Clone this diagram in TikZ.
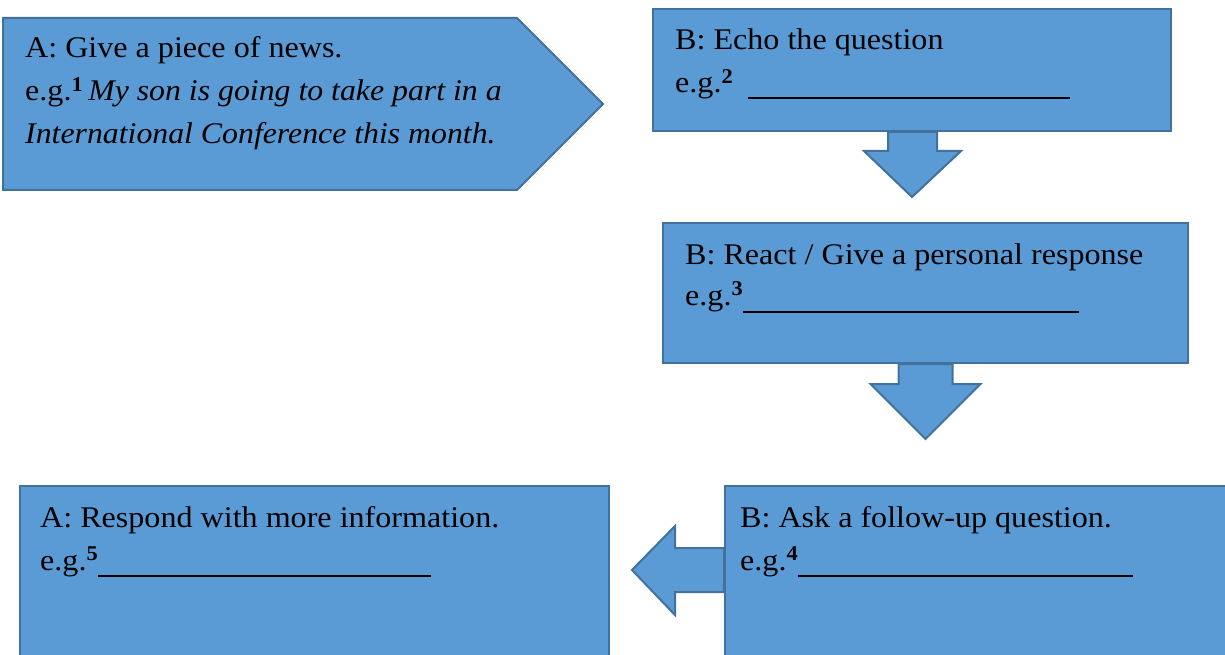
\documentclass[tikz,border=0pt]{standalone}
\usepackage{fontspec}
\setmainfont[FakeStretch=1.07, ItalicFeatures={FakeStretch=1.06}]{Liberation Serif}
\usetikzlibrary{calc}
\definecolor{boxfill}{HTML}{5B9BD5}
\definecolor{boxline}{HTML}{41719C}
\begin{document}
\begin{tikzpicture}[x=1pt,y=-1pt,
  blk/.style={fill=boxfill, draw=boxline, line width=2pt, line join=miter},
  box/.style={blk, rectangle, inner sep=0pt},
  txt/.style={anchor=base west, inner sep=0pt, font=\fontsize{30}{36}\selectfont}]
\clip (0,0) rectangle (1225,655);
% boxes
\filldraw[blk] (3,18) coordinate (p1) -- (517,18) -- (603,104) coordinate (b1tip) -- (517,190) -- (3,190) -- cycle;
\node[box, minimum width=518pt, minimum height=122pt] (b2) at (912,70) {};
\node[box, minimum width=525pt, minimum height=140pt] (b3) at (925.5,293) {};
\node[box, minimum width=589.5pt, minimum height=184pt] (b5) at (314.25,578) {};
\node[box, minimum width=520pt, minimum height=184pt] (b4) at (985,578) {};
% block arrows
\filldraw[blk] ($(b2.south)+(-24,0)$) -- ($(b2.south)+(-24,19)$) -- ($(b2.south)+(-48,19)$)
  -- ($(b2.south)+(0,65)$) coordinate (a1tip) -- ($(b2.south)+(49,19)$) -- ($(b2.south)+(25,19)$)
  -- ($(b2.south)+(25,0)$) -- cycle;
\filldraw[blk] ($(b3.south)+(-27,0)$) -- ($(b3.south)+(-27,20)$) -- ($(b3.south)+(-55,20)$)
  -- ($(b3.south)+(0,75)$) coordinate (a2tip) -- ($(b3.south)+(55,20)$) -- ($(b3.south)+(27,20)$)
  -- ($(b3.south)+(27,0)$) -- cycle;
\coordinate (a3base) at ($(b4.north west)+(0,85)$);
\filldraw[blk] ($(a3base)+(0,-22)$) -- ($(a3base)+(-49,-22)$) -- ($(a3base)+(-49,-44)$)
  -- ($(a3base)+(-92,0)$) coordinate (a3tip) -- ($(a3base)+(-49,45)$) -- ($(a3base)+(-49,22)$)
  -- ($(a3base)+(0,22)$) -- cycle;
% texts
\node[txt] (t1a) at (25,58) {A: Give a piece of news.};
\node[txt] (t1b) at (25,101) {e.g.\textsuperscript{\textbf{1}}\,\textit{My son is going to take part in a}};
\node[txt] (t1c) at (25,144) {\textit{International Conference this month.}};
\node[txt] (t2a) at (675,50) {B: Echo the question};
\node[txt] (t2b) at (675,93) {e.g.\textsuperscript{\textbf{2}}\hspace{15pt}\rule[-6pt]{322pt}{2pt}};
\node[txt] (t3a) at (685,264) {B: React / Give a personal response};
\node[txt] (t3b) at (685,305) {e.g.\textsuperscript{\textbf{3}}\rule[-8pt]{336pt}{2pt}};
\node[txt] (t5a) at (40,527) {A: Respond with more information.};
\node[txt] (t5b) at (40,570) {e.g.\textsuperscript{\textbf{5}}\rule[-7pt]{333pt}{2pt}};
\node[txt] (t4a) at (740,527) {B: Ask a follow-up question.};
\node[txt] (t4b) at (740,570) {e.g.\textsuperscript{\textbf{4}}\rule[-7pt]{335pt}{2pt}};
\end{tikzpicture}
\end{document}
